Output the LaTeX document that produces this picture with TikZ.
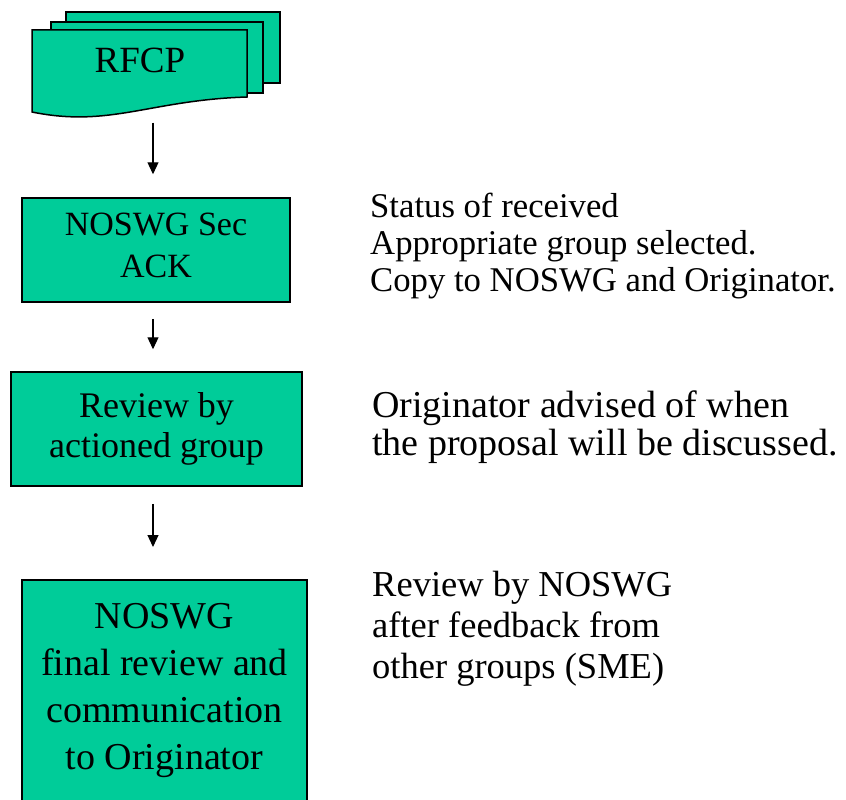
\documentclass[tikz,border=0pt]{standalone}
\usepackage{fontspec}
\setmainfont{Liberation Serif}
\usepackage{tikz}
\usetikzlibrary{arrows.meta, positioning, calc}
\definecolor{sheet}{RGB}{0,204,153}

\begin{document}
\begin{tikzpicture}[x=1pt, y=-1pt,
    stepbox/.style={draw=black, line width=1.5pt, fill=sheet, align=center, inner sep=0pt},
    page/.style={draw=black, line width=1.5pt, fill=sheet},
    flow/.style={-{Triangle[width=11pt,length=12pt]}, line width=1.2pt},
    note/.style={anchor=west, align=left, inner sep=0pt}]
    \useasboundingbox (0,0) rectangle (846,800);
    %draws the stacked RFCP pages
    \draw[page] (66,12) rectangle (280,83);
    \draw[page] (51,22) rectangle (263,93);
    \draw[page] (32,30) -- (247,30) -- (247,97) .. controls (150,100) and (110,128) .. (32,112) -- cycle;
    \node (rfcp) at (140,60) [inner sep=0pt, font=\fontsize{37}{42}\selectfont] {RFCP};
    %the three boxes on the left
    \node (ack) at (156,250) [stepbox, minimum width=268, minimum height=104, text depth=10pt, font=\fontsize{34}{42}\selectfont] {NOSWG Sec\\ACK};
    \node (review) at (156.5,429) [stepbox, minimum width=291, minimum height=114, font=\fontsize{36}{40}\selectfont] {Review by\\actioned group};
    \node (final) [stepbox, anchor=north, minimum width=285, minimum height=222, font=\fontsize{38}{47}\selectfont] at (164.5,579) {NOSWG\\final review and\\communication\\ to Originator};
    %draws the arrows down the left
    \coordinate (spine) at (153,0);
    \draw[flow, shorten <=50pt, shorten >=23pt] (rfcp.south -| spine) -- (ack.north -| spine);
    \draw[flow, shorten <=16pt, shorten >=22pt] (ack.south -| spine) -- (review.north -| spine);
    \draw[flow, shorten <=17pt, shorten >=32pt] (review.south -| spine) -- (final.north -| spine);
    %notes on the right
    \node (status) at (370,246) [note, font=\fontsize{34.7}{37}\selectfont] {Status of received\\Appropriate group selected.\\Copy to NOSWG and Originator.};
    \node (advice) at (372,427) [note, font=\fontsize{38}{38}\selectfont] {Originator advised of when\\the proposal will be discussed.};
    \node (feedback) at (372,629) [note, font=\fontsize{36.5}{41}\selectfont] {Review by NOSWG\\after feedback from\\other groups (SME)};
\end{tikzpicture}
\end{document}
